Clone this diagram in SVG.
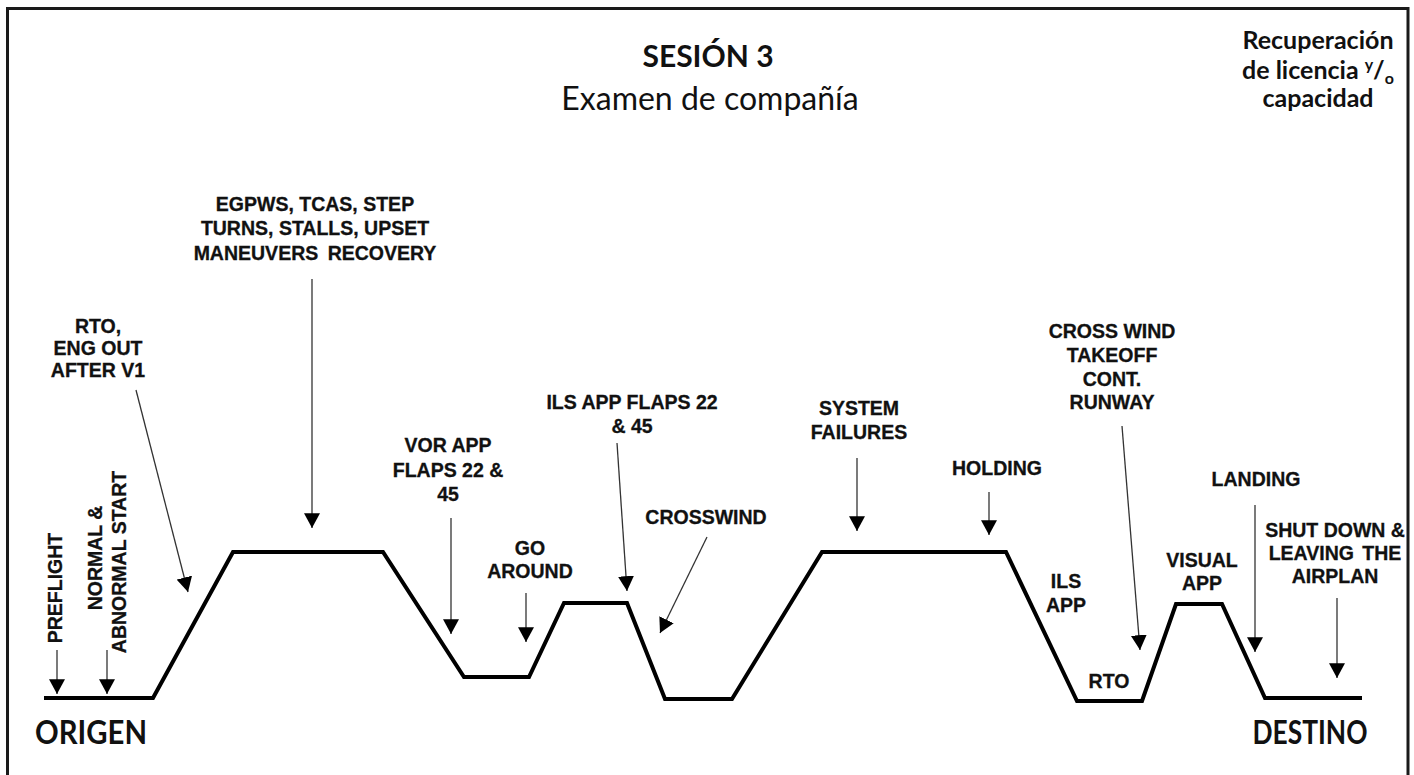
<svg xmlns="http://www.w3.org/2000/svg" width="1414" height="775" viewBox="0 0 1414 775">
<style>
.lbl{font-family:"Liberation Sans",Arial,sans-serif;font-weight:bold;font-size:19.5px;fill:#111;stroke:#111;stroke-width:0.3;text-anchor:middle}
.ttl{font-family:Lato,"Open Sans",sans-serif;fill:#111;text-anchor:middle}
.conn{stroke:#333;stroke-width:1.3;fill:none;marker-end:url(#ah)}
.prof{stroke:#000;stroke-width:4;fill:none;stroke-linejoin:miter}
</style>
<defs>
<marker id="ah" markerUnits="userSpaceOnUse" markerWidth="16" markerHeight="16" viewBox="0 0 14 14" refX="13" refY="7" orient="auto">
<path d="M0,0 L13,7 L0,14 Z" fill="#000"/>
</marker>
</defs>
<rect width="1414" height="775" fill="#fff"/>
<path d="M7.5,780 V8.5 H1408 V780" fill="none" stroke="#1a1a1a" stroke-width="3"/>

<g id="title">
<text class="ttl" x="708" y="67" font-size="30" font-weight="bold">SESIÓN 3</text>
<text class="ttl" x="710" y="110" font-size="32">Examen de compañía</text>
</g>
<g id="recuperacion">
<text class="ttl" x="1318" y="49" font-size="25" font-weight="bold">Recuperación</text>
<text class="ttl" x="1318" y="79" font-size="25" font-weight="bold">de licencia <tspan font-size="16" dy="-9">y</tspan><tspan dy="9">/</tspan><tspan font-size="16" dy="5">o</tspan></text>
<text class="ttl" x="1318" y="107" font-size="25" font-weight="bold">capacidad</text>
</g>
<g id="origen"><text class="ttl" x="91" y="744" font-size="32" font-weight="bold" textLength="112" lengthAdjust="spacingAndGlyphs">ORIGEN</text></g>
<g id="destino"><text class="ttl" x="1310" y="744" font-size="32" font-weight="bold" textLength="115" lengthAdjust="spacingAndGlyphs">DESTINO</text></g>

<g id="profile">
<path class="prof" d="M44,698 H153 L233,552 H383 L464,677 H529 L564,603 H627 L665,699 H732 L822,552 H1006 L1077,701 H1142 L1176,604 H1222 L1265,698 H1362"/>
</g>

<g id="connectors">
<line class="conn" x1="57" y1="650" x2="57" y2="694"/>
<line class="conn" x1="107" y1="650" x2="107" y2="694"/>
<line class="conn" x1="136" y1="390" x2="188" y2="592"/>
<line class="conn" x1="312" y1="279" x2="312" y2="528"/>
<line class="conn" x1="451" y1="518" x2="451" y2="634"/>
<line class="conn" x1="526" y1="593" x2="526" y2="642"/>
<line class="conn" x1="617" y1="443" x2="627" y2="591"/>
<line class="conn" x1="707" y1="537" x2="660" y2="633"/>
<line class="conn" x1="857" y1="458" x2="857" y2="531"/>
<line class="conn" x1="989" y1="492" x2="989" y2="535"/>
<line class="conn" x1="1122" y1="426" x2="1140" y2="650"/>
<line class="conn" x1="1255" y1="505" x2="1255" y2="652"/>
<line class="conn" x1="1337" y1="598" x2="1337" y2="678"/>
</g>

<g id="preflight"><text class="lbl" transform="translate(62,588) rotate(-90)">PREFLIGHT</text></g>
<g id="normal-start">
<text class="lbl" transform="translate(102,558) rotate(-90)">NORMAL &amp;</text>
<text class="lbl" transform="translate(126,562) rotate(-90)">ABNORMAL START</text>
</g>
<g id="rto-eng">
<text class="lbl" x="98" y="333">RTO,</text>
<text class="lbl" x="98" y="355">ENG OUT</text>
<text class="lbl" x="98" y="377">AFTER V1</text>
</g>
<g id="egpws">
<text class="lbl" x="315" y="211">EGPWS, TCAS, STEP</text>
<text class="lbl" x="315" y="235">TURNS, STALLS, UPSET</text>
<text class="lbl" x="315" y="260" word-spacing="4">MANEUVERS RECOVERY</text>
</g>
<g id="vor-app">
<text class="lbl" x="448" y="452">VOR APP</text>
<text class="lbl" x="448" y="477">FLAPS 22 &amp;</text>
<text class="lbl" x="448" y="501">45</text>
</g>
<g id="go-around">
<text class="lbl" x="530" y="555">GO</text>
<text class="lbl" x="530" y="578">AROUND</text>
</g>
<g id="ils-flaps">
<text class="lbl" x="632" y="409">ILS APP FLAPS 22</text>
<text class="lbl" x="632" y="433">&amp; 45</text>
</g>
<g id="crosswind"><text class="lbl" x="706" y="524">CROSSWIND</text></g>
<g id="system-failures">
<text class="lbl" x="859" y="415">SYSTEM</text>
<text class="lbl" x="859" y="439">FAILURES</text>
</g>
<g id="holding"><text class="lbl" x="997" y="475">HOLDING</text></g>
<g id="crosswind-takeoff">
<text class="lbl" x="1112" y="338">CROSS WIND</text>
<text class="lbl" x="1112" y="362">TAKEOFF</text>
<text class="lbl" x="1112" y="386">CONT.</text>
<text class="lbl" x="1112" y="409">RUNWAY</text>
</g>
<g id="ils-app">
<text class="lbl" x="1066" y="588">ILS</text>
<text class="lbl" x="1066" y="612">APP</text>
</g>
<g id="rto"><text class="lbl" x="1109" y="688">RTO</text></g>
<g id="visual-app">
<text class="lbl" x="1202" y="567">VISUAL</text>
<text class="lbl" x="1202" y="590">APP</text>
</g>
<g id="landing"><text class="lbl" x="1256" y="486">LANDING</text></g>
<g id="shutdown">
<text class="lbl" x="1335" y="537">SHUT DOWN &amp;</text>
<text class="lbl" x="1335" y="560" word-spacing="3">LEAVING THE</text>
<text class="lbl" x="1335" y="583">AIRPLAN</text>
</g>
</svg>
